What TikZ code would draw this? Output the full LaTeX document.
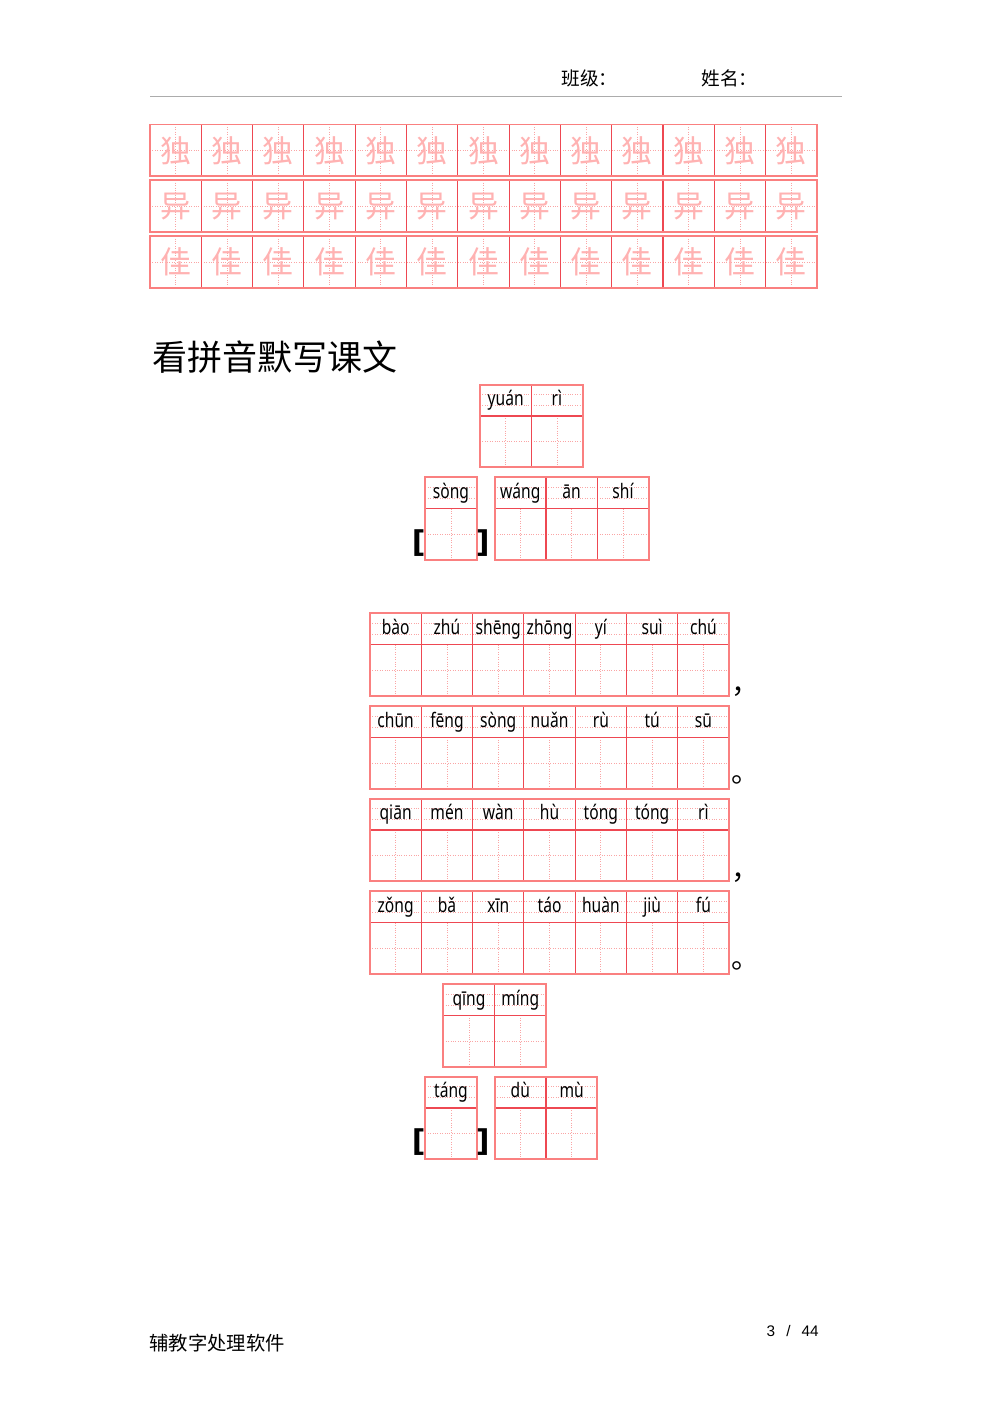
\documentclass[tikz,border=0pt]{standalone}
\usepackage{fontspec}
\newfontfamily\cjk{Noto Sans CJK SC}
\newfontfamily\pyfont[FakeStretch=0.78]{Noto Sans}
\newfontfamily\numfont[WordSpace=2.6]{Liberation Sans}
\newfontfamily\brfont{DejaVu Sans}
\usetikzlibrary{calc}

\definecolor{gridred}{RGB}{238,72,82}
\definecolor{gridpink}{RGB}{250,128,128}
\definecolor{guidepink}{RGB}{250,165,165}
\definecolor{charpink}{RGB}{255,178,178}
\definecolor{rulegray}{RGB}{172,172,172}

\newcommand{\practicerow}[3]{%
	\foreach \i in {0,...,12}{
		\draw[guide] (150+\i*51.3+25.65,#1) -- ++(0,51.8);
		\draw[guide] (150+\i*51.3,#1+25.9) -- ++(51.3,0);
		\node[model] (#3-\i) at (150+\i*51.3+25.65,#1+25.9) {#2};
	}
	\foreach \i in {1,...,12}
		\draw[divider] (150+\i*51.3,#1) -- ++(0,51.8);
	\draw[boxframe] (150,#1) rectangle ++(667,51.8);
}

\newcommand{\pinyinbox}[5]{%
	\foreach \s [count=\i from 0] in {#5}{
		\draw[guide] (#1+\i*51.3,#2+10) -- ++(51.3,0);
		\draw[guide] (#1+\i*51.3,#2+21) -- ++(51.3,0);
		\draw[guide] (#1+\i*51.3+25.65,#2+31.3) -- ++(0,51.3);
		\draw[guide] (#1+\i*51.3,#2+56.95) -- ++(51.3,0);
		\node[pinyin] (#4-\i) at (#1+\i*51.3+25.65,#2+21) {\s};
		\draw[divider] (#1+\i*51.3,#2) -- ++(0,82.6);
	}
	\draw[divider] (#1,#2+31.3) -- ++(#3*51.3,0);
	\draw[boxframe] (#1,#2) rectangle ++(#3*51.3,82.6);
}

\begin{document}
\begin{tikzpicture}[x=0.6pt,y=-0.6pt]
		
		\tikzstyle{every node}=[inner sep=0pt]
		\tikzstyle{guide}=[guidepink, densely dotted, line width=0.45pt]
		\tikzstyle{divider}=[gridred, line width=0.7pt]
		\tikzstyle{boxframe}=[gridpink, line width=1.1pt]
		\tikzstyle{model}=[charpink, font=\cjk\fontsize{18.5}{18.5}\selectfont]
		\tikzstyle{pinyin}=[anchor=base, font=\pyfont\fontsize{12}{12}\selectfont]
		\tikzstyle{bracket}=[font=\brfont\bfseries\fontsize{18}{18}\selectfont]
		\tikzstyle{punct}=[anchor=base west, font=\cjk\fontsize{17}{17}\selectfont]
		
		\useasboundingbox (0,0) rectangle (992,1403);
		
		\node[anchor=west, font=\cjk\fontsize{11.2}{11.2}\selectfont] (class) at (561,78) {班级：};
		\node[anchor=west, font=\cjk\fontsize{11.2}{11.2}\selectfont] (name) at (701,78) {姓名：};
		\draw[rulegray, line width=0.6pt] (150,96.5) -- (842,96.5);
		
		\practicerow{124.5}{独}{du}
		\practicerow{180.3}{异}{yi}
		\practicerow{236.1}{佳}{jia}
		
		\node[anchor=west, font=\cjk\fontsize{21}{21}\selectfont] (heading) at (152,357) {看拼音默写课文};
		
		\pinyinbox{480}{384.7}{2}{ti}{yuán,rì}
		\pinyinbox{425.3}{477.3}{1}{chao}{sòng}
		\pinyinbox{494.7}{477.3}{3}{zuozhe}{wáng,ān,shí}
		\node[bracket] (chao-l) at (418.7,542.8) {[};
		\node[bracket] (chao-r) at (482.7,542.8) {]};
		
		\pinyinbox{370}{613.3}{7}{juA}{bào,zhú,shēng,zhōng,yí,suì,chú}
		\pinyinbox{370}{706}{7}{juB}{chūn,fēng,sòng,nuǎn,rù,tú,sū}
		\pinyinbox{370}{798.7}{7}{juC}{qiān,mén,wàn,hù,tóng,tóng,rì}
		\pinyinbox{370}{891.4}{7}{juD}{zǒng,bǎ,xīn,táo,huàn,jiù,fú}
		\node[punct] (douA) at (731,693) {，};
		\node[punct] (juhaoB) at (731,782) {。};
		\node[punct] (douC) at (731,879) {，};
		\node[punct] (juhaoD) at (731,968) {。};
		
		\pinyinbox{443.3}{984}{2}{ti2}{qīng,míng}
		\pinyinbox{425.3}{1076.7}{1}{chao2}{táng}
		\pinyinbox{494.7}{1076.7}{2}{zuozhe2}{dù,mù}
		\node[bracket] (chao2-l) at (418.7,1142.2) {[};
		\node[bracket] (chao2-r) at (482.7,1142.2) {]};
		
		\node[anchor=west, font=\cjk\fontsize{11.6}{11.6}\selectfont] (soft) at (149,1343) {辅教字处理软件};
		\node[anchor=east, font=\numfont\fontsize{9.2}{9.2}\selectfont] (page) at (819,1331) {3 / 44};
		
\end{tikzpicture}
\end{document}
